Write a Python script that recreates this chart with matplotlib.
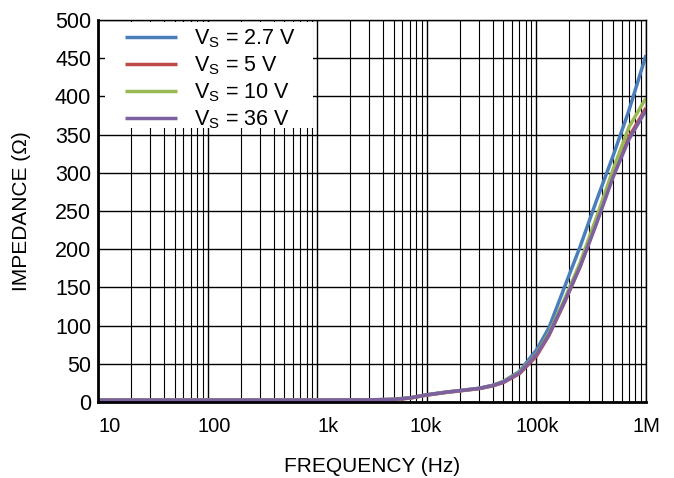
import matplotlib
matplotlib.use('Agg')
import matplotlib.pyplot as plt
import matplotlib.transforms as mtransforms
from matplotlib.patches import Rectangle
from matplotlib.ticker import FixedLocator, LogLocator, NullFormatter

plt.rcParams['font.family'] = ['Liberation Sans', 'DejaVu Sans']
plt.rcParams['mathtext.fontset'] = 'custom'
plt.rcParams['mathtext.rm'] = 'Liberation Sans'
plt.rcParams['mathtext.it'] = 'Liberation Sans'

# frequency points (Hz)
freq = [10, 100, 1e3, 3e3, 5e3, 7e3, 10e3, 15e3, 20e3, 30e3, 40e3, 50e3, 70e3,
        100e3, 130e3, 180e3, 250e3, 350e3, 500e3, 700e3, 1e6]
z_27 = [2.5, 2.5, 2.5, 2.8, 3.5, 5.5, 9.5, 13, 15, 18, 22, 27, 40,
        68, 97, 150, 203, 262, 322, 382, 454]
z_5 = [2.3, 2.3, 2.3, 2.6, 3.2, 5.0, 9.0, 12.5, 14.5, 17.5, 21, 25.5, 37,
       60, 87, 130, 177, 233, 296, 347, 385]
z_10 = [2.5, 2.5, 2.5, 2.8, 3.4, 5.3, 9.3, 12.8, 14.8, 17.8, 21.5, 26.5, 39,
        63, 90, 134, 182, 240, 304, 360, 398]
z_36 = [2.5, 2.5, 2.5, 2.8, 3.4, 5.3, 9.3, 12.8, 14.8, 17.8, 21.5, 26, 38,
        62, 88, 131, 177, 232, 294, 344, 382]

series = [
    (r'V$_\mathrm{S}$ = 2.7 V', z_27, '#4a7ebb'),
    (r'V$_\mathrm{S}$ = 5 V', z_5, '#be4b48'),
    (r'V$_\mathrm{S}$ = 10 V', z_10, '#98b954'),
    (r'V$_\mathrm{S}$ = 36 V', z_36, '#7d60a0'),
]

x_ticks = [10, 100, 1e3, 1e4, 1e5, 1e6]
x_labels = ['10', '100', '1k', '10k', '100k', '1M']
y_ticks = list(range(0, 501, 50))
# the original labels sit a little off their ticks
x_label_shift_px = [12, 7, 11, -1, 1, 0]

fig = plt.figure(figsize=(6.74, 4.78), dpi=100)
ax = fig.add_axes([98 / 674, 76 / 478, 548 / 674, 382 / 478])

for label, z, color in series:
    ax.plot(freq, z, color=color, lw=2.5, label=label, solid_capstyle='butt')

ax.set_xscale('log')
ax.set_xlim(10, 1e6)
ax.set_ylim(0, 500)
ax.xaxis.set_major_locator(FixedLocator(x_ticks))
ax.set_xticklabels(x_labels)
ax.xaxis.set_minor_locator(LogLocator(base=10, subs=range(2, 10), numticks=20))
ax.xaxis.set_minor_formatter(NullFormatter())
ax.set_yticks(y_ticks)

ax.grid(which='major', color='black', lw=1.0)
ax.grid(which='minor', axis='x', color='black', lw=0.8)
ax.set_axisbelow(True)
ax.tick_params(which='both', length=0)
ax.tick_params(axis='x', pad=11, labelsize=14.5)
ax.tick_params(axis='y', pad=5, labelsize=15.5)
for lbl, dx in zip(ax.get_xticklabels(), x_label_shift_px):
    lbl.set_transform(lbl.get_transform() +
                      mtransforms.ScaledTranslation(dx / 100, 0, fig.dpi_scale_trans))

for side in ['left', 'bottom']:
    ax.spines[side].set_linewidth(2.0)
for side in ['top', 'right']:
    ax.spines[side].set_linewidth(1.0)

ax.set_xlabel('FREQUENCY (Hz)', fontsize=15, labelpad=15)
ax.set_ylabel('IMPEDANCE (\u03a9)', fontsize=15, labelpad=17)

# white box behind the legend hides the grid there
ax.add_patch(Rectangle((0.013, 0.717), 0.379, 0.278, transform=ax.transAxes,
                       facecolor='white', edgecolor='none', zorder=1))

leg = ax.legend(loc='upper left', bbox_to_anchor=(0.049, 0.98), fontsize=15.5,
                frameon=False, borderaxespad=0, borderpad=0,
                handlelength=2.4, handletextpad=0.8, labelspacing=0.2)
for line in leg.get_lines():
    line.set_linewidth(2.5)

plt.savefig('out.png', dpi=100)
plt.close()
